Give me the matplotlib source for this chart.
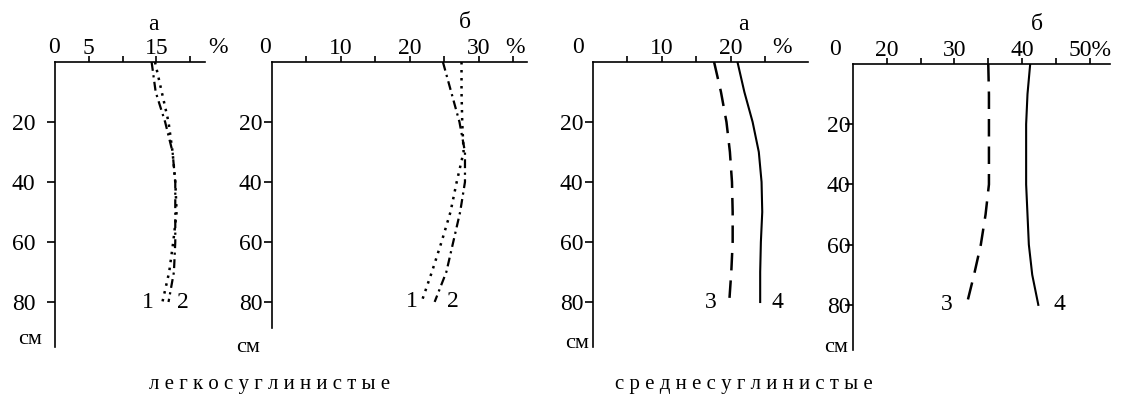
import numpy as np
import matplotlib.pyplot as plt

plt.rcParams['font.family'] = ['Liberation Serif', 'DejaVu Serif']

W, H = 1124, 401
FS = 17

# depth, cm
depth = [0, 10, 20, 30, 40, 50, 60, 70, 80]

# легкосуглинистые, panel а
light_a_1 = [14.8, 15.8, 16.8, 17.4, 17.8, 18.0, 17.5, 16.9, 15.9]
light_a_2 = [14.3, 14.9, 16.3, 17.4, 17.8, 17.8, 17.8, 17.6, 16.8]
# легкосуглинистые, panel б
light_b_1 = [27.5, 27.5, 27.6, 27.8, 26.8, 25.9, 24.6, 23.2, 21.7]
light_b_2 = [24.8, 26.0, 27.2, 28.0, 28.0, 27.3, 26.3, 25.3, 23.6]
# среднесуглинистые, panel а
mid_a_3 = [17.6, 18.6, 19.4, 19.9, 20.2, 20.3, 20.3, 20.1, 19.8]
mid_a_4 = [21.0, 22.0, 23.2, 24.1, 24.5, 24.6, 24.4, 24.3, 24.3]
# среднесуглинистые, panel б
mid_b_3 = [35.0, 35.1, 35.1, 35.1, 35.1, 34.6, 33.9, 32.9, 31.8]
mid_b_4 = [41.2, 40.8, 40.6, 40.6, 40.6, 40.8, 41.0, 41.5, 42.4]

fig = plt.figure(figsize=(W / 100, H / 100), dpi=100)


def panel(x0, x1, y0, y1, xlim, ylim):
    ax = fig.add_axes([x0 / W, 1 - y1 / H, (x1 - x0) / W, (y1 - y0) / H])
    ax.set_xlim(*xlim)
    ax.set_ylim(ylim, 0)
    for s in ('right', 'bottom'):
        ax.spines[s].set_visible(False)
    for s in ('left', 'top'):
        ax.spines[s].set_linewidth(1.2)
    ax.xaxis.tick_top()
    ax.tick_params(axis='x', direction='out', length=4, width=1.2, pad=-2, labelsize=FS)
    ax.tick_params(axis='y', direction='out', length=6, width=1.2, pad=1, labelsize=FS)
    ax.set_yticks([20, 40, 60, 80])
    ax.patch.set_alpha(0)
    return ax


def zero_label(ax, x, dx):
    ax.annotate('0', xy=(x, 0), xytext=(dx, 4), textcoords='offset pixels',
                ha='center', va='bottom', fontsize=FS, annotation_clip=False)


def pct(ax, x):
    ax.annotate('%', xy=(x, 0), xytext=(0, 4), textcoords='offset pixels',
                ha='center', va='bottom', fontsize=FS, annotation_clip=False)


def end_label(ax, txt, xs, dx):
    ax.annotate(txt, xy=(xs[-1], depth[-1]), xytext=(dx, 0), textcoords='offset pixels',
                ha='center', va='center', fontsize=FS, annotation_clip=False)


dotted = (0, (1, 2.2))
dashdot = (0, (4, 2, 1, 2))
dashed = (0, (7, 4))

# panel 1
ax1 = panel(55, 205, 62, 347, (0, 22.2), 95)
ax1.set_xticks([5, 10, 15, 20])
ax1.set_xticklabels(['5', '', '15', ''])
ax1.tick_params(axis='y', pad=8)
zero_label(ax1, 0, -1)
pct(ax1, 24.1)
ax1.plot(light_a_1, depth, color='black', lw=1.8, ls=dotted)
ax1.plot(light_a_2, depth, color='black', lw=1.6, ls=dashdot)
end_label(ax1, '1', light_a_1, -15)
end_label(ax1, '2', light_a_2, 14)

# panel 2
ax2 = panel(272, 527, 62, 328, (0, 37), 88.7)
ax2.set_xticks([5, 10, 15, 20, 25, 30, 35])
ax2.set_xticklabels(['', '10', '', '20', '', '30', ''])
zero_label(ax2, 0, -7)
pct(ax2, 35.2)
ax2.plot(light_b_1, depth, color='black', lw=1.8, ls=dotted)
ax2.plot(light_b_2, depth, color='black', lw=1.6, ls=dashdot)
end_label(ax2, '1', light_b_1, -10)
end_label(ax2, '2', light_b_2, 18)

# panel 3
ax3 = panel(593, 808, 62, 347, (0, 31.25), 95)
ax3.set_xticks([5, 10, 15, 20, 25])
ax3.set_xticklabels(['', '10', '', '20', ''])
zero_label(ax3, 0, -15)
pct(ax3, 27.5)
ax3.plot(mid_a_3, depth, color='black', lw=1.8, ls=dashed)
ax3.plot(mid_a_4, depth, color='black', lw=1.5)
end_label(ax3, '3', mid_a_3, -18)
end_label(ax3, '4', mid_a_4, 17)

# panel 4 (axis broken: origin labelled 0, scale starts at 15)
ax4 = panel(853, 1110, 64, 350, (15, 53), 95)
ax4.set_xticks([20, 25, 30, 35, 40, 45, 50])
ax4.set_xticklabels(['20', '', '30', '', '40', '', '50%'])
ax4.tick_params(axis='y', pad=-4)
zero_label(ax4, 15, -18)
ax4.plot(mid_b_3, depth, color='black', lw=1.8, ls=dashed)
ax4.plot(mid_b_4, depth, color='black', lw=1.5)
end_label(ax4, '3', mid_b_3, -20)
end_label(ax4, '4', mid_b_4, 21)

# panel letters
for x, y, t in [(153, 25, 'а'), (465, 22, 'б'), (743, 25, 'а'), (1037, 25, 'б')]:
    fig.text(x / W, 1 - y / H, t, ha='center', va='center', fontsize=FS)

# depth unit
for x, y in [(30, 340), (248, 347), (577, 343), (836, 347)]:
    fig.text(x / W, 1 - y / H, 'см', ha='center', va='center', fontsize=16)

# captions
fig.text(270 / W, 1 - 385 / H, ' '.join('легкосуглинистые'),
         ha='center', va='center', fontsize=15)
fig.text(744 / W, 1 - 385 / H, ' '.join('среднесуглинистые'),
         ha='center', va='center', fontsize=15)

fig.savefig('out.png', dpi=100)
